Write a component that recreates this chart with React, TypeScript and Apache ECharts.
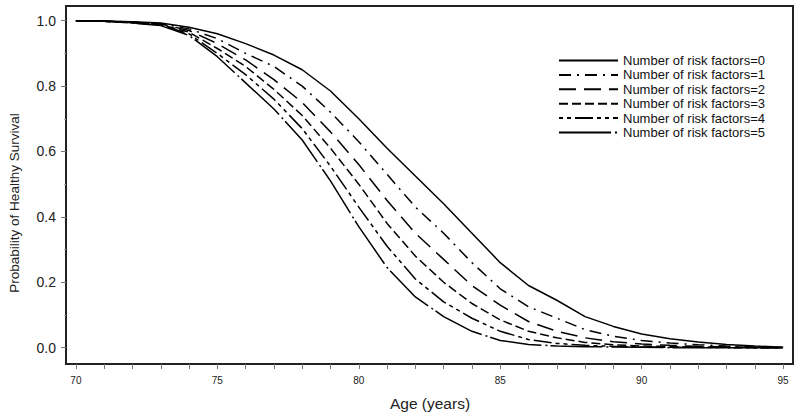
import React, { useEffect, useRef } from "react";
import * as echarts from "echarts";

const ages = [70, 71, 72, 73, 74, 75, 76, 77, 78, 79, 80, 81, 82, 83, 84, 85, 86, 87, 88, 89, 90, 91, 92, 93, 94, 95];

const risk0 = [1.0, 0.999, 0.997, 0.993, 0.98, 0.96, 0.93, 0.895, 0.85, 0.785, 0.7, 0.61, 0.525, 0.44, 0.35, 0.26, 0.19, 0.145, 0.095, 0.065, 0.042, 0.027, 0.017, 0.01, 0.005, 0.001];
const risk1 = [1.0, 0.999, 0.996, 0.991, 0.975, 0.945, 0.9, 0.86, 0.8, 0.72, 0.63, 0.53, 0.43, 0.35, 0.26, 0.18, 0.125, 0.09, 0.055, 0.035, 0.022, 0.014, 0.009, 0.005, 0.002, 0.001];
const risk2 = [1.0, 0.999, 0.995, 0.99, 0.97, 0.93, 0.88, 0.82, 0.75, 0.66, 0.56, 0.45, 0.35, 0.27, 0.19, 0.13, 0.08, 0.05, 0.03, 0.018, 0.011, 0.007, 0.004, 0.002, 0.001, 0.0];
const risk3 = [1.0, 0.998, 0.994, 0.988, 0.965, 0.915, 0.86, 0.79, 0.71, 0.61, 0.5, 0.38, 0.28, 0.2, 0.135, 0.085, 0.05, 0.03, 0.016, 0.009, 0.005, 0.003, 0.002, 0.001, 0.0, 0.0];
const risk4 = [1.0, 0.998, 0.994, 0.987, 0.96, 0.9, 0.835, 0.76, 0.67, 0.555, 0.43, 0.31, 0.21, 0.14, 0.09, 0.05, 0.025, 0.013, 0.007, 0.004, 0.002, 0.001, 0.001, 0.0, 0.0, 0.0];
const risk5 = [1.0, 0.998, 0.993, 0.985, 0.955, 0.89, 0.81, 0.73, 0.635, 0.51, 0.37, 0.245, 0.155, 0.095, 0.05, 0.022, 0.01, 0.005, 0.003, 0.002, 0.001, 0.0, 0.0, 0.0, 0.0, 0.0];

const seriesNames = [
  "Number of risk factors=0",
  "Number of risk factors=1",
  "Number of risk factors=2",
  "Number of risk factors=3",
  "Number of risk factors=4",
  "Number of risk factors=5",
];
const seriesValues = [risk0, risk1, risk2, risk3, risk4, risk5];
const dashes: any[] = [
  "solid",
  [12, 6, 2, 6],
  [17, 8],
  [9, 4],
  [4, 4, 4, 4, 18, 4],
  [52, 4, 2, 3],
];

const xTicks = ages;
const xLabels = [70, 75, 80, 85, 90, 95];
const yMajor = [0, 0.2, 0.4, 0.6, 0.8, 1.0];
const yMinor = [0.1, 0.3, 0.5, 0.7, 0.9];

const FONT = "Liberation Sans, Arial, sans-serif";

export default function App() {
  const ref = useRef<HTMLDivElement>(null);
  useEffect(() => {
    if (!ref.current) return;
    const chart = echarts.init(ref.current, undefined, { renderer: "svg" });
    const yMin = -0.05;
    const yMax = 1.045;
    chart.setOption({
      animation: false,
      backgroundColor: "#fff",
      grid: {
        left: 66,
        top: 6,
        right: 7,
        bottom: 54,
        show: true,
        borderColor: "#222",
        borderWidth: 2,
        backgroundColor: "transparent",
      },
      legend: {
        orient: "vertical",
        left: 558,
        top: 54,
        padding: 0,
        itemWidth: 59,
        itemHeight: 12,
        itemGap: 1.4,
        itemStyle: { opacity: 0 },
        textStyle: { fontFamily: FONT, fontSize: 13, color: "#111", lineHeight: 12 },
        data: seriesNames,
      },
      xAxis: {
        type: "value",
        min: 69.65,
        max: 95.35,
        axisLine: { show: false, onZero: false },
        splitLine: { show: false },
        axisTick: {
          show: true,
          customValues: xTicks,
          length: 5,
          inside: false,
          lineStyle: { color: "#777", width: 1 },
        },
        axisLabel: {
          customValues: xLabels,
          fontFamily: FONT,
          fontSize: 10,
          color: "#222",
          margin: 11,
        },
      },
      yAxis: [
        {
          type: "value",
          min: yMin,
          max: yMax,
          axisLine: { show: false, onZero: false },
          splitLine: { show: false },
          axisTick: {
            show: true,
            customValues: yMajor,
            length: 5,
            lineStyle: { color: "#777", width: 1 },
          },
          axisLabel: {
            customValues: yMajor,
            fontFamily: FONT,
            fontSize: 14,
            color: "#222",
            margin: 10,
            formatter: (v: number) => v.toFixed(1),
          },
        },
        {
          type: "value",
          min: yMin,
          max: yMax,
          position: "left",
          offset: 0,
          axisLine: { show: false, onZero: false },
          splitLine: { show: false },
          axisTick: {
            show: true,
            customValues: yMinor,
            length: 2,
            lineStyle: { color: "#aaa", width: 1 },
          },
          axisLabel: { show: false },
        },
      ],
      graphic: [
        {
          type: "text",
          x: 14,
          y: 203,
          rotation: Math.PI / 2,
          style: {
            text: "Probability of Healthy Survival",
            fontFamily: FONT,
            fontSize: 13.5,
            fill: "#222",
            align: "center",
            verticalAlign: "middle",
          },
        },
        {
          type: "text",
          x: 430,
          y: 403,
          style: {
            text: "Age (years)",
            fontFamily: FONT,
            fontSize: 15.5,
            fill: "#222",
            align: "center",
            verticalAlign: "middle",
          },
        },
      ],
      series: seriesNames.map((name, i) => ({
        name,
        type: "line",
        yAxisIndex: 0,
        symbol: "none",
        smooth: false,
        data: ages.map((a, j) => [a, seriesValues[i][j]]),
        lineStyle: { color: "#000", width: 1.5, type: dashes[i] },
        itemStyle: { color: "#000" },
      })),
    });
    return () => chart.dispose();
  }, []);
  return <div ref={ref} style={{ width: 800, height: 418, position: "absolute", left: 0, top: 0 }} />;
}
